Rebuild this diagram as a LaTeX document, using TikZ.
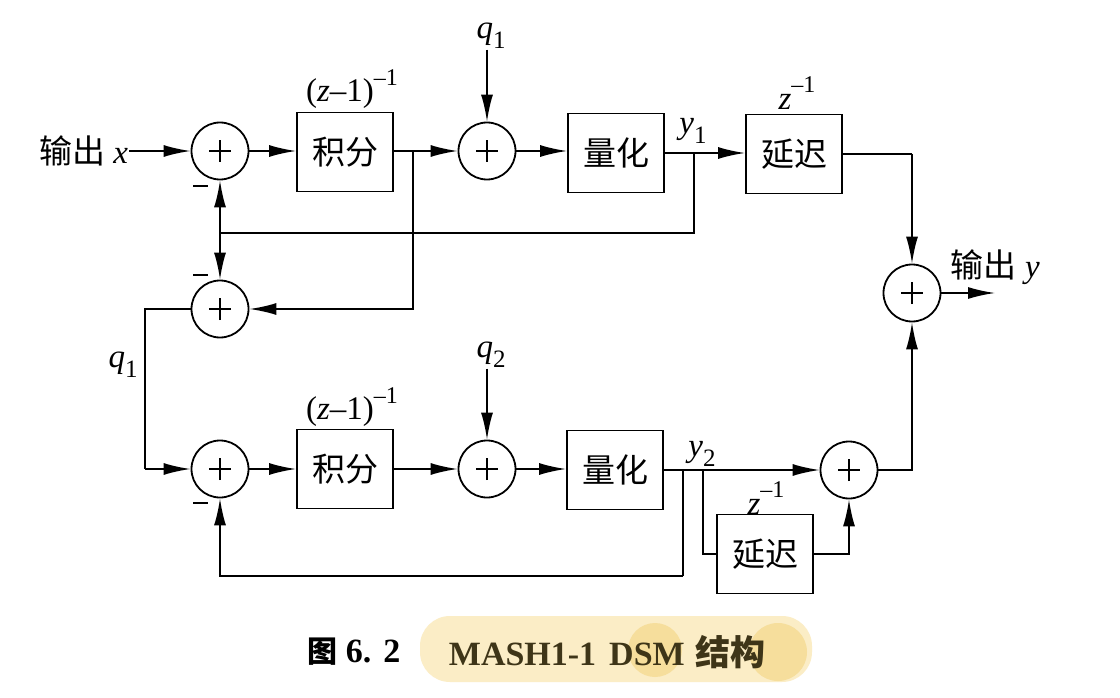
\documentclass[tikz,border=0pt]{standalone}
\usepackage{fontspec}
\usepackage{graphicx}
\setmainfont{Liberation Serif}
\newfontfamily\cjk{Noto Sans CJK SC}
\usetikzlibrary{arrows.meta}
\newcommand\mysub[1]{\raisebox{-0.3em}{\fontsize{25}{25}\selectfont #1}}
\newcommand\mysup[1]{\raisebox{0.5em}{\fontsize{24}{24}\selectfont #1}}
\definecolor{hl}{HTML}{FBEDC6}
\definecolor{hltwo}{HTML}{F6DE9C}
\definecolor{capt}{HTML}{3E3518}
\begin{document}
\begin{tikzpicture}[x=1pt,y=-1pt,
  line width=1.8pt,
  sumnode/.style={circle,draw,minimum size=57pt,inner sep=0pt,
    path picture={\draw[line width=1.2pt] (path picture bounding box.center) ++(-11pt,0pt) -- ++(22pt,0pt);
                  \draw[line width=1.2pt] (path picture bounding box.center) ++(0pt,-11pt) -- ++(0pt,22pt);}},
  blk/.style={draw,minimum width=96pt,minimum height=79pt,inner sep=0pt,font=\cjk\fontsize{33}{33}\selectfont},
  lbl/.style={inner sep=0pt,font=\fontsize{33}{33}\selectfont},
  mns/.style={fill,draw=none,minimum width=15pt,minimum height=2.2pt,inner sep=0pt},
  arr/.style={-{Latex[length=27pt,width=12pt]}},
]
\fill[white] (0,0) rectangle (1120,698);
\useasboundingbox (0,0) rectangle (1120,698);

% top row
\node[sumnode] (s1) at (220,151) {};
\node[blk] (i1) at (345,152) {积分};
\node[sumnode] (s2) at (487,151) {};
\node[blk] (qa) at (616,153) {量化};
\node[blk] (d1) at (794,154) {延迟};
\node[sumnode] (so) at (912,293) {};
\node[sumnode] (s3) at (220,309) {};
% bottom row
\node[sumnode] (s4) at (220,469) {};
\node[blk] (i2) at (345,469) {积分};
\node[sumnode] (s5) at (487,469) {};
\node[blk] (qb) at (615,470) {量化};
\node[sumnode] (s6) at (849,470) {};
\node[blk] (d2) at (765,554) {延迟};

% labels
\node[lbl,anchor=east] (inx) at (129,151) {{\cjk 输出} \textit{x}};
\node[lbl,anchor=west] (ouy) at (950,267) {{\cjk 输出} \textit{y}};
\node[lbl] (lqa) at (491,36) {\textit{q}\mysub{1}};
\node[lbl] (lqb) at (491,355) {\textit{q}\mysub{2}};
\node[lbl] (lqc) at (123,365) {\textit{q}\mysub{1}};
\node[lbl] (tfa) at (352,89) {(\textit{z}–1)\mysup{–1}};
\node[lbl] (tfb) at (352,407) {(\textit{z}–1)\mysup{–1}};
\node[lbl] (lya) at (693,131) {\textit{y}\mysub{1}};
\node[lbl] (lyb) at (702,454) {\textit{y}\mysub{2}};
\node[lbl] (lza) at (797,93) {\textit{z}\mysup{–1}};
\node[lbl] (lzb) at (766,498) {\textit{z}\mysup{–1}};
\node[mns] (ma) at (200,186) {};
\node[mns] (mb) at (200,275) {};
\node[mns] (mc) at (200,503) {};

% coordinates
\coordinate (b1) at (694,153);
\coordinate (b1d) at (694,233);
\coordinate (fb1) at (220,233);
\coordinate (b2) at (413,152);
\coordinate (c1) at (145,309);
\coordinate (c2) at (145,469);
\coordinate (oend) at (995,293);
\coordinate (b3) at (683,470);
\coordinate (fb2) at (683,576);
\coordinate (b4) at (703,470);
\coordinate (dsrc) at (912,154);

% connectors top
\draw[arr] (inx) -- (s1);
\draw[arr] (s1) -- (s1 -| i1.west);
\draw[arr] (i1.east |- s2) -- (s2);
\draw[arr] (s2 |- lqa.south) -- (s2);
\draw[arr] (s2) -- (s2 -| qa.west);
\draw[arr] (qa.east |- b1) -- (d1.west |- b1);
\draw (b1) -- (b1d) -- (fb1);
\draw[arr] (fb1) -- (s1);
\draw[arr] (fb1) -- (s3);
\draw[arr] (b2) |- (s3);
\draw (s3) -- (c1) -- (c2);
\draw[arr] (c2) -- (s4);
\draw (d1.east) -- (dsrc);
\draw[arr] (dsrc) -- (so);
\draw[arr] (so) -- (oend);
% connectors bottom
\draw[arr] (s4) -- (s4 -| i2.west);
\draw[arr] (i2.east |- s5) -- (s5);
\draw[arr] (s5 |- lqb.south) -- (s5);
\draw[arr] (s5) -- (s5 -| qb.west);
\draw[arr] (qb.east |- s6) -- (s6);
\draw (b3) -- (fb2);
\draw[arr] (fb2) -| (s4);
\draw (b4) |- (d2);
\draw[arr] (d2) -| (s6);
\draw[arr] (s6) -| (so);

% caption
\fill[hl,rounded corners=30pt] (420,616) rectangle (812,682);
\fill[hltwo] (655,650) circle (27pt);
\fill[hltwo] (778,652) circle (29pt);
\node[anchor=west,inner sep=0pt,font=\fontsize{34}{34}\selectfont] (capa) at (307,652) {{\cjk\bfseries\fontsize{30}{30}\selectfont 图}\hspace{8pt}\textbf{6.\hspace{12pt}2}};
\node[anchor=west,inner sep=0pt,text=capt,font=\fontsize{34}{34}\selectfont] (capb) at (448,652) {\textbf{MASH1-1}\hspace{13pt}\textbf{DSM}\hspace{11pt}{\cjk\bfseries\fontsize{35}{35}\selectfont 结构}};
\end{tikzpicture}
\end{document}
